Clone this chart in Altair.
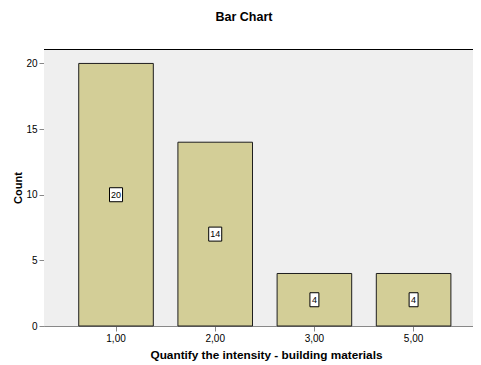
import altair as alt
import pandas as pd

categories = ["1,00", "2,00", "3,00", "5,00"]
counts = [20, 14, 4, 4]

df = pd.DataFrame({"cat": categories, "count": counts})
df["label"] = df["count"].astype(str)
df["mid"] = df["count"] / 2
df["box"] = [
    "M-0.93,-1H0.93V1H-0.93Z" if len(s) > 1 else "M-0.64,-1H0.64V1H-0.64Z"
    for s in df["label"]
]

W, H = 429, 277
FONT = "Liberation Sans"

xscale = alt.Scale(paddingInner=0.248, paddingOuter=0.2865, align=0.611)
yscale = alt.Scale(domain=[0, 21.1], nice=False, zero=True)

x = alt.X("cat:N", scale=xscale, sort=categories,
          axis=alt.Axis(title="Quantify the intensity - building materials", labelAngle=0,
                        titleX=222, titleY=32.5, titleBaseline="alphabetic",
                        titleAlign="center", titleFontSize=11.8))
y = alt.Y("count:Q", scale=yscale,
          axis=alt.Axis(title="Count", values=[0, 5, 10, 15, 20], grid=False,
                        titleX=-23, titleY=H / 2, titleAngle=270,
                        titleBaseline="alphabetic", titleAlign="center"))

bg = alt.Chart(df).mark_rect(color="#efefef").encode(
    x=alt.value(0), x2=alt.value(W), y=alt.value(0), y2=alt.value(H)
)

bars = alt.Chart(df).mark_bar(color="#d3ce97", stroke="#1e1e1e", strokeWidth=1).encode(x=x, y=y)

top_rule = alt.Chart(df).mark_rule(color="black", strokeWidth=1).encode(
    x=alt.value(0), x2=alt.value(W), y=alt.value(0.5)
)

boxes = alt.Chart(df).mark_point(filled=True, fill="white", stroke="black",
                                 strokeWidth=1, opacity=1, size=196).encode(
    x=alt.X("cat:N", sort=categories, scale=xscale),
    y=alt.Y("mid:Q", scale=yscale),
    shape=alt.Shape("box:N", scale=None),
)

texts = alt.Chart(df).mark_text(font=FONT, fontSize=9, color="black", baseline="middle").encode(
    x=alt.X("cat:N", sort=categories, scale=xscale),
    y=alt.Y("mid:Q", scale=yscale),
    text="label:N",
)

chart = alt.layer(bg, bars, top_rule, boxes, texts).properties(
    width=W, height=H,
    autosize=alt.AutoSizeParams(type="none"),
    padding={"left": 36, "top": 41, "right": 0, "bottom": 38},
    title=alt.TitleParams("Bar Chart", font=FONT, fontSize=12.5, fontWeight="bold",
                          anchor="middle", frame="group", dx=-14.5, offset=26, color="black"),
).configure_view(
    strokeWidth=0
).configure_axis(
    labelFont=FONT, labelFontSize=9, labelColor="#222",
    titleFont=FONT, titleFontSize=12, titleFontWeight="bold", titleColor="black",
    domainColor="black", domainWidth=1.5, tickColor="black", tickSize=5,
).configure_axisY(
    labelPadding=1,
).configure_axisX(
    tickSize=4, labelPadding=2,
).configure(background="white")

chart.save("out.html", embed_options={"renderer": "svg", "actions": False})
